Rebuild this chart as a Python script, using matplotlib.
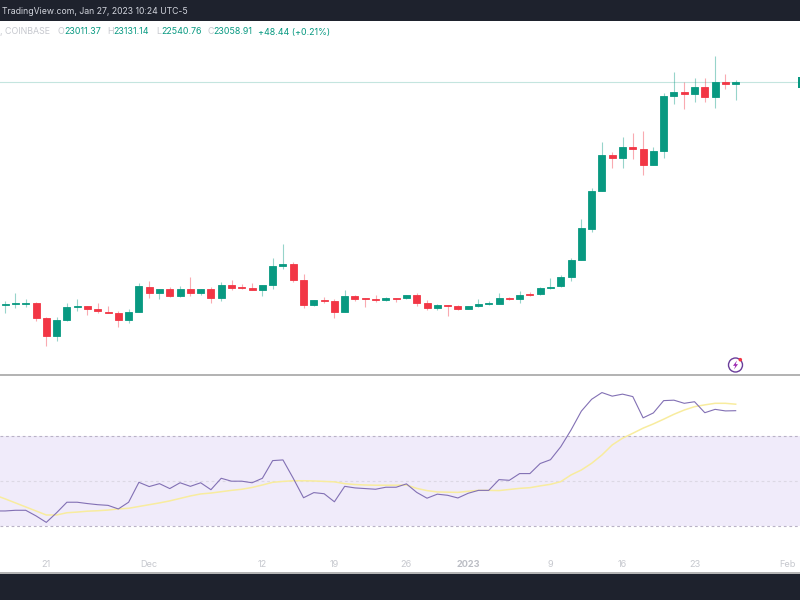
import numpy as np
import pandas as pd
import matplotlib
matplotlib.use("Agg")
import matplotlib.pyplot as plt
import matplotlib.dates as mdates
from matplotlib.patches import Rectangle, Circle, Polygon

plt.rcParams['font.family'] = ['Inter', 'DejaVu Sans']

start_date = '2022-11-17'
open_ = [16650,16673,16679,16708,16276,15766,16218,16584,16613,16526,16457,16428,16218,16457,17168,17004,17102,16909,17120,16987,17111,16852,17235,17160,17140,17091,17226,17782,17822,17370,16641,16794,16757,16457,16909,16843,16823,16794,16852,16843,16929,16716,16555,16650,16621,16535,16613,16670,16688,16860,16837,16967,16958,17140,17189,17456,17955,18848,19942,20961,20884,21192,21143,20682,21085,22678,22793,22718,22920,22640,23064,23011.37]
close = [16693,16708,16708,16276,15766,16218,16601,16613,16526,16477,16428,16218,16457,17189,17004,17102,16909,17120,16987,17102,16852,17235,17148,17140,17091,17226,17782,17822,17370,16650,16794,16757,16457,16918,16832,16823,16785,16852,16832,16929,16716,16555,16650,16621,16535,16621,16670,16699,16860,16832,16952,16947,17131,17177,17456,17955,18859,19942,20961,20884,21192,21134,20682,21085,22678,22793,22727,22920,22640,23072,23023,23058.91]
high = [16765,16996,16823,16722,16290,16304,16716,16823,16621,16699,16621,16486,16544,17275,17333,17120,17177,17206,17465,17120,17177,17312,17361,17246,17292,17226,18004,18407,17880,17543,16803,16889,16823,17082,16929,16860,16947,16872,16860,16947,16987,16794,16670,16659,16641,16630,16823,16765,17004,16880,17053,17016,17177,17428,17505,18012,19127,20011,21344,21048,21497,21595,21653,21192,22764,23360,23072,23188,23188,23821,23303,23131.14]
low = [16420,16564,16592,16198,15478,15613,16198,16477,16362,16411,16420,16025,16123,16440,16860,16823,16889,16889,16909,16929,16708,16774,17091,17111,17073,16918,17120,17687,17312,16564,16621,16699,16284,16448,16757,16584,16745,16774,16745,16823,16621,16498,16506,16342,16506,16526,16592,16641,16670,16794,16699,16909,16947,17120,17168,17333,17955,18744,19933,20596,20604,20863,20385,20673,20875,22439,22303,22496,22488,22332,22871,22540.76]

last_price = 23058.91

rsi_start = '2022-11-16'
rsi = [36.6,36.6,36.9,36.9,34.4,31.5,35.8,40.5,40.5,39.9,39.4,39.1,37.5,40.5,49.4,47.5,48.8,46.6,49.2,47.6,49.2,46.1,51.2,49.9,49.9,49.2,51.2,59.1,59.4,51.2,42.5,44.8,44.3,40.7,47.6,46.9,46.6,46.3,47.2,47.2,48.7,44.9,42.3,44.1,43.6,42.4,44.5,45.8,45.8,50.6,50.3,53.3,53.3,57.8,59.5,65.3,72.8,81.2,86.5,89.5,87.9,88.8,87.7,78.2,80.4,85.9,86.1,84.7,85.4,80.5,82.0,81.3,81.4]
rsi_ma = [43.7,42.0,40.2,38.4,36.6,34.8,34.8,35.8,36.1,36.5,36.7,37.0,37.5,37.8,38.6,39.4,40.2,41.1,42.2,43.3,44.2,44.6,45.2,45.8,46.3,47.1,48.2,49.4,49.8,50.1,50.1,50.0,49.8,49.6,48.8,48.4,48.2,48.1,48.1,48.1,48.2,46.7,45.7,45.1,45.0,44.9,45.4,45.8,45.8,45.7,46.2,46.7,47.0,47.8,48.5,49.7,52.7,54.9,57.9,61.6,66.1,69.1,71.3,73.6,75.5,77.6,79.8,81.7,83.2,84.0,84.7,84.7,84.3]
rsi_levels = [30, 50, 70]

tick_dates = ['2022-11-21','2022-12-01','2022-12-12','2022-12-19','2022-12-26','2023-01-01','2023-01-09','2023-01-16','2023-01-23','2023-02-01']
tick_labels = ['21','Dec','12','19','26','2023','9','16','23','Feb']

GREEN, RED = '#089981', '#F23645'
GREY_TXT = '#c6c8ce'

W, H = 800, 600
fig = plt.figure(figsize=(8, 6), dpi=100, facecolor='white')

def pane(top, bottom):
    return fig.add_axes([0, 1 - bottom / H, 1, (bottom - top) / H])

x = mdates.date2num(pd.date_range(start_date, periods=len(close), freq='D'))
xr = mdates.date2num(pd.date_range(rsi_start, periods=len(rsi), freq='D'))
x0 = mdates.date2num(pd.Timestamp('2022-11-21'))
xlim = (x0 - 4.5, x0 + 73.25)

o, h, l, c = map(np.array, (open_, high, low, close))
cols = [GREEN if b >= a else RED for a, b in zip(o, c)]

ax = pane(21, 375)
ax.set_xlim(*xlim)
ax.set_ylim(14634, 24829)
ax.axhline(last_price, color='#c4e5df', lw=0.8, zorder=1)
ax.vlines(x, l, h, colors=cols, lw=0.8, alpha=0.42, zorder=2)
ax.bar(x, np.abs(c - o), bottom=np.minimum(o, c), width=0.68, color=cols,
       edgecolor=cols, linewidth=0.6, zorder=3)
ax.axis('off')

ar = pane(376, 548)
ar.set_xlim(*xlim)
ar.set_ylim(20.05, 96.9)
ar.axhspan(min(rsi_levels), max(rsi_levels), color='#f0ebfa', lw=0, zorder=0)
for lv in rsi_levels:
    mid = lv == 50
    ar.axhline(lv, color='#dcd8e4' if mid else '#b9b2c6', lw=0.8,
               dashes=(2.5, 2.5), zorder=1)
ar.plot(xr, rsi_ma, color='#f8ec9e', lw=1.1, zorder=2)
ar.plot(xr, rsi, color='#8270b4', lw=0.8, zorder=3)
for s in ar.spines.values():
    s.set_visible(False)
ar.set_yticks([])
ar.set_xticks(mdates.date2num(pd.to_datetime(tick_dates)))
ar.set_xticklabels(tick_labels, fontsize=6.6, color=GREY_TXT)
ar.tick_params(axis='x', length=0, pad=8.6)
for t, lab in zip(ar.get_xticklabels(), tick_labels):
    if lab == '2023':
        t.set_fontweight('bold')
        t.set_color('#bcbec5')

# window chrome in pixel coordinates
ov = fig.add_axes([0, 0, 1, 1], facecolor='none')
ov.set_xlim(0, W)
ov.set_ylim(H, 0)
ov.axis('off')
ov.add_patch(Rectangle((0, 0), W, 20.5, color='#1e222d', lw=0))
ov.add_patch(Rectangle((0, 573.5), W, 27, color='#1e222d', lw=0))
ov.add_patch(Rectangle((0, 572.3), W, 1.4, color='#b4b4b4', lw=0))
ov.add_patch(Rectangle((0, 374.2), W, 1.8, color='#b4b4b4', lw=0))
ov.add_patch(Rectangle((798, 76.5), 2, 11.5, color=GREEN, lw=0))

ov.text(2, 12, 'TradingView.com, Jan 27, 2023 10:24 UTC-5', color='#d1d4dc',
        fontsize=6.25, va='center', ha='left')

legend = [(0, ', COINBASE', GREY_TXT), (57, 'O', GREY_TXT), (64, '23011.37', GREEN),
          (107, 'H', GREY_TXT), (113, '23131.14', GREEN), (156, 'L', GREY_TXT),
          (161, '22540.76', GREEN), (207, 'C', GREY_TXT), (213, '23058.91', GREEN),
          (258, '+48.44 (+0.21%)', GREEN)]
for px, s, col in legend:
    ov.text(px, 32, s, color=col, fontsize=6.4, va='center', ha='left')

ov.add_patch(Circle((735.5, 365), 7, fill=False, ec='#6a3d9a', lw=1.0))
ov.add_patch(Polygon([(737, 360.5), (733, 365.8), (735.3, 365.8), (734, 369.5),
                      (738, 364.2), (735.7, 364.2)], closed=True, color='#9c27b0', lw=0))
ov.add_patch(Circle((740.3, 359.7), 1.8, color='#f23645', lw=0))

fig.savefig('out.png', dpi=100)
